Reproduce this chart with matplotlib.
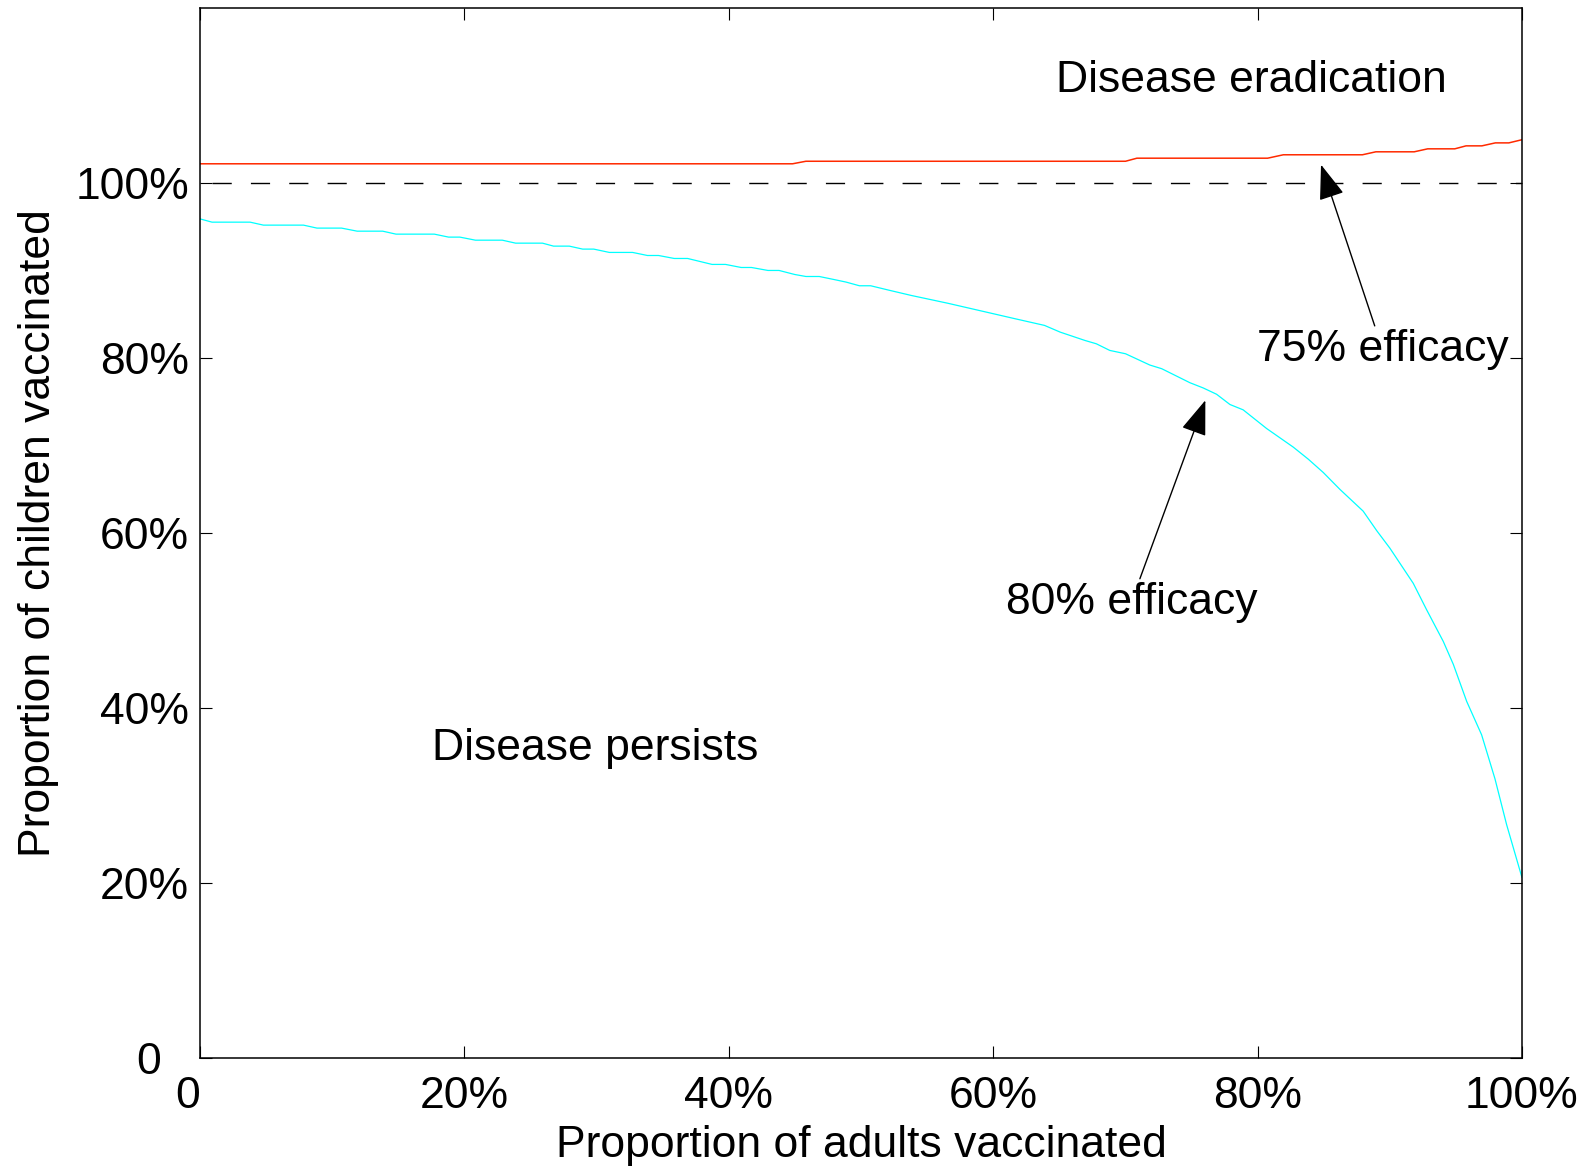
import matplotlib
matplotlib.use("Agg")
import matplotlib.pyplot as plt
import matplotlib.transforms as mtransforms

plt.rcParams['font.family'] = ['Liberation Sans', 'DejaVu Sans']

# vaccination threshold curves (fraction of adults, fraction of children)
adults_80 = [0.0, 0.009, 0.0378, 0.0479, 0.0782, 0.0884, 0.107, 0.1188, 0.1381, 0.1482,
             0.1772, 0.188, 0.1965, 0.2083, 0.2286, 0.2387, 0.259, 0.2674, 0.2793, 0.2894,
             0.2978, 0.3096, 0.3272, 0.3384, 0.3468, 0.3587, 0.3688, 0.3873, 0.3975, 0.4093,
             0.4171, 0.4296, 0.438, 0.4498, 0.4583, 0.4684, 0.4803, 0.4887, 0.4988, 0.5073,
             0.5218, 0.5381, 0.5654, 0.5893, 0.6166, 0.6388, 0.6507, 0.6694, 0.678, 0.6882,
             0.7001, 0.7185, 0.7275, 0.7488, 0.7589, 0.769, 0.7791, 0.7891, 0.8068, 0.827,
             0.8383, 0.8497, 0.8623, 0.8799, 0.8901, 0.9001, 0.9178, 0.9279, 0.9405, 0.9481,
             0.9582, 0.9695, 0.9796, 0.9884, 1.0]
children_80 = [0.959, 0.9553, 0.9553, 0.9519, 0.9519, 0.9485, 0.9485, 0.945, 0.945, 0.9416,
               0.9416, 0.9382, 0.9382, 0.9347, 0.9347, 0.9313, 0.9313, 0.9279, 0.9279, 0.9245,
               0.9245, 0.9207, 0.9207, 0.9172, 0.9172, 0.9138, 0.9138, 0.907, 0.907, 0.9035,
               0.9035, 0.9001, 0.9001, 0.8955, 0.8932, 0.8932, 0.8895, 0.8868, 0.8826, 0.8826,
               0.8773, 0.8715, 0.8627, 0.8544, 0.8449, 0.8373, 0.8296, 0.8201, 0.8163, 0.8087,
               0.8049, 0.792, 0.7878, 0.7718, 0.7658, 0.7586, 0.7469, 0.7408, 0.7195, 0.6982,
               0.6845, 0.6692, 0.6499, 0.625, 0.6028, 0.5827, 0.5425, 0.5123, 0.4761, 0.4499,
               0.4076, 0.3694, 0.3191, 0.2668, 0.2064]

adults_75 = [0.0, 0.4482, 0.4583, 0.7001, 0.7087, 0.8076, 0.8195, 0.8793, 0.8895, 0.9185,
             0.9287, 0.9492, 0.9577, 0.9697, 0.9799, 0.9901, 1.0]
children_75 = [1.022, 1.022, 1.0249, 1.0249, 1.0284, 1.0284, 1.0323, 1.0323, 1.0357, 1.0357,
               1.0391, 1.0391, 1.0425, 1.0425, 1.0459, 1.0459, 1.0495]

threshold = 1.0
xticks = [0, 0.2, 0.4, 0.6, 0.8, 1.0]
xticklabels = ['0', '20%', '40%', '60%', '80%', '100%']
yticks = [0, 0.2, 0.4, 0.6, 0.8, 1.0]
yticklabels = ['0', '20%', '40%', '60%', '80%', '100%']

fs = 32

fig = plt.figure(figsize=(15.87, 11.66), dpi=100)
ax = fig.add_axes([0.1261, 0.0926, 0.8329, 0.9005])

ax.plot(adults_75, children_75, color='#ff2a00', lw=1.1)
ax.plot(adults_80, children_80, color='#00ffff', lw=0.9)
ax.axhline(threshold, color='black', lw=1.0, linestyle=(18.9, (13.8, 13.8)))

ax.set_xlim(0, 1)
ax.set_ylim(0, 1.2)
ax.set_xticks(xticks)
ax.set_xticklabels(xticklabels)
ax.set_yticks(yticks)
ax.set_yticklabels(yticklabels)
ax.tick_params(direction='in', length=8.5, width=0.8, top=True, right=True,
               labelsize=fs, pad=8)
ax.tick_params(axis='x', pad=13)
for s in ax.spines.values():
    s.set_linewidth(1.1)

# the two "0" labels sit a bit off their ticks in the original
ax.get_xticklabels()[0].set_ha('right')
y0 = ax.get_yticklabels()[0]
y0.set_transform(y0.get_transform() + mtransforms.ScaledTranslation(-0.28, 0, fig.dpi_scale_trans))

ax.set_xlabel('Proportion of adults vaccinated', fontsize=fs, labelpad=6)
ax.set_ylabel('Proportion of children vaccinated', fontsize=fs, labelpad=12)

ax.text(0.795, 1.1035, 'Disease eradication', fontsize=fs, ha='center', va='baseline')
ax.text(0.2987, 0.341, 'Disease persists', fontsize=fs, ha='center', va='baseline')

arrow = dict(arrowstyle='-|>,head_length=1.1,head_width=0.4', color='black', lw=1.0,
             mutation_scale=20, shrinkA=0, shrinkB=0)
ax.annotate('75% efficacy', xy=(0.848, 1.021), xytext=(0.8945, 0.797),
            fontsize=fs, ha='center', va='baseline', arrowprops=arrow)
ax.annotate('80% efficacy', xy=(0.7605, 0.7517), xytext=(0.7045, 0.508),
            fontsize=fs, ha='center', va='baseline', arrowprops=arrow)

fig.savefig('out.png', dpi=100)
